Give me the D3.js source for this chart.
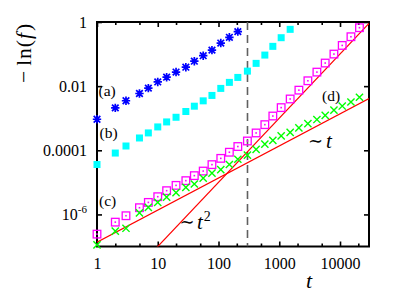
<!DOCTYPE html>
<html><head><meta charset="utf-8">
<script src="https://cdn.jsdelivr.net/npm/d3@7"></script>
<style>
body{margin:0;background:#fff}
svg{display:block}
</style>
</head><body>
<svg id="chart" width="399" height="292" style="font-family:'Liberation Serif','DejaVu Serif',serif"></svg>
<script>
// ---- data ----
const times = [1,2,3,5,7,10,14,20,29,40,56,78,109,151,208,299,416,579,784,1075,1512,2104,2960,4165,5706,7940,10870,15130,20900];
const seriesA = [9.3e-4,2.1e-3,3.5e-3,5.9e-3,8.7e-3,1.35e-2,1.9e-2,2.75e-2,3.9e-2,6.0e-2,8.9e-2,0.133,0.221,0.333,0.50];
const seriesB = [3.6e-5,8.2e-5,1.36e-4,2.42e-4,3.48e-4,5.35e-4,7.66e-4,1.07e-3,1.62e-3,2.37e-3,3.48e-3,5.13e-3,8.5e-3,1.31e-2,1.87e-2,2.94e-2,5.13e-2,9.3e-2,0.174,0.324,0.59];
const seriesC = [2.43e-7,5.75e-7,9.1e-7,1.62e-6,2.37e-6,3.57e-6,5.5e-6,8.05e-6,1.13e-5,1.62e-5,2.25e-5,3.57e-5,5.6e-5,8.7e-5,1.31e-4,1.95e-4,3.47e-4,6.3e-4,1.17e-3,2.14e-3,3.98e-3,7.5e-3,1.47e-2,2.74e-2,5.25e-2,0.1,0.186,0.347,0.664];
const seriesD = [1.12e-7,3.0e-7,3.7e-7,1.12e-6,1.66e-6,2.37e-6,3.47e-6,4.8e-6,7.0e-6,8.9e-6,1.36e-5,1.95e-5,2.5e-5,3.6e-5,5.25e-5,7.1e-5,1.07e-4,1.55e-4,2.04e-4,2.8e-4,3.6e-4,5.0e-4,6.8e-4,9.1e-4,1.23e-3,1.78e-3,2.4e-3,3.2e-3,4.5e-3];
const guideT = [1, 30000];
const guideLinear = [1.36e-7, 4.08e-3];   // ~ t
const guideQuad = [1e-9, 0.9];            // ~ t^2
const markerTime = 300;
const xTickValues = [1,10,100,1000,10000];
const xTickLabels = ["1","10","100","1000","10000"];
const xMinorTicks = [2,5,20,50,200,500,2000,5000,20000];
const yTickValues = [1,1e-2,1e-4,1e-6];
const yTickLabels = ["1","0.01","0.0001","10|-6"];

const SERIF = "Liberation Serif";

// ---- layout ----
const L = 97, R = 369, T = 22, B = 246.5;
const svg = d3.select("#chart");
const x = d3.scaleLog().domain([1, 30000]).range([L, R]);
const y = d3.scaleLog().domain([1e-7, 1]).range([B, T]);

svg.append("defs").append("clipPath").attr("id","clip")
  .append("rect").attr("x",L).attr("y",T).attr("width",R-L).attr("height",B-T);

function styleAxis(g){
  g.select(".domain").remove();
  g.attr("font-family",SERIF).attr("font-size",16);
  g.selectAll(".tick line").attr("stroke","#000").attr("stroke-width",1.6);
  g.selectAll("text").attr("fill","#000").attr("font-family",SERIF);
}
// bottom major
const gxb = svg.append("g").attr("transform",`translate(0,${B})`)
  .call(d3.axisBottom(x).tickValues(xTickValues).tickFormat((d,i)=>xTickLabels[i]).tickSize(-5));
styleAxis(gxb);
gxb.selectAll("text").attr("y",22.5).attr("dy",null);
// bottom minor
const gxbm = svg.append("g").attr("transform",`translate(0,${B})`)
  .call(d3.axisBottom(x).tickValues(xMinorTicks).tickFormat("").tickSize(-3));
styleAxis(gxbm);
// top major/minor
const gxt = svg.append("g").attr("transform",`translate(0,${T})`)
  .call(d3.axisTop(x).tickValues(xTickValues).tickFormat("").tickSize(-5));
styleAxis(gxt);
const gxtm = svg.append("g").attr("transform",`translate(0,${T})`)
  .call(d3.axisTop(x).tickValues(xMinorTicks).tickFormat("").tickSize(-3));
styleAxis(gxtm);
// left
const gyl = svg.append("g").attr("transform",`translate(${L},0)`)
  .call(d3.axisLeft(y).tickValues(yTickValues).tickFormat((d,i)=>yTickLabels[i]).tickSize(-5));
styleAxis(gyl);
gyl.selectAll("text").attr("x",-10).attr("dy","0.32em").each(function(){
  const s = d3.select(this), t = s.text();
  if (t.includes("|")) {
    const [base, sup] = t.split("|");
    s.text(base);
    s.append("tspan").attr("dy",-7).attr("font-size",11).text(sup);
  }
});
// right
const gyr = svg.append("g").attr("transform",`translate(${R},0)`)
  .call(d3.axisRight(y).tickValues(yTickValues).tickFormat("").tickSize(-5));
styleAxis(gyr);

// frame
svg.append("rect").attr("x",L).attr("y",T).attr("width",R-L).attr("height",B-T)
  .attr("fill","none").attr("stroke","#000").attr("stroke-width",2);

// plot content
const plot = svg.append("g");
const clipped = plot.append("g").attr("clip-path","url(#clip)");

// vertical dashed marker
clipped.append("line")
  .attr("x1",x(markerTime)).attr("x2",x(markerTime))
  .attr("y1",y.range()[1]).attr("y2",y.range()[0])
  .attr("stroke","#606060").attr("stroke-width",1.6).attr("stroke-dasharray","8,5");

// guide lines
const line = d3.line().x(d=>x(d[0])).y(d=>y(d[1]));
clipped.append("path").attr("d", line(guideT.map((t,i)=>[t,guideLinear[i]])))
  .attr("fill","none").attr("stroke","#ff0000").attr("stroke-width",1.2);
clipped.append("path").attr("d", line(guideT.map((t,i)=>[t,guideQuad[i]])))
  .attr("fill","none").attr("stroke","#ff0000").attr("stroke-width",1.2);

// markers
const starPath = "M-4.2,0H4.2M0,-4.2V4.2M-3.3,-3.3L3.3,3.3M-3.3,3.3L3.3,-3.3";
const crossPath = "M-3.6,-3.6L3.6,3.6M-3.6,3.6L3.6,-3.6";

plot.append("g").selectAll("path").data(seriesA.map((v,i)=>[times[i],v])).join("path")
  .attr("transform",d=>`translate(${x(d[0])},${y(d[1])})`)
  .attr("d",starPath).attr("fill","none").attr("stroke","#0000ff").attr("stroke-width",1.7);

plot.append("g").selectAll("rect").data(seriesB.map((v,i)=>[times[i],v])).join("rect")
  .attr("x",d=>x(d[0])-3.5).attr("y",d=>y(d[1])-3.5).attr("width",7).attr("height",7)
  .attr("fill","#00ffff");

const gC = plot.append("g").selectAll("g").data(seriesC.map((v,i)=>[times[i],v])).join("g")
  .attr("transform",d=>`translate(${x(d[0])},${y(d[1])})`);
gC.append("rect").attr("x",-3.8).attr("y",-3.8).attr("width",7.6).attr("height",7.6)
  .attr("fill","none").attr("stroke","#ff00ff").attr("stroke-width",1.3);
gC.append("rect").attr("x",-0.8).attr("y",-0.8).attr("width",1.6).attr("height",1.6).attr("fill","#ff00ff");

plot.append("g").selectAll("path").data(seriesD.map((v,i)=>[times[i],v])).join("path")
  .attr("transform",d=>`translate(${x(d[0])},${y(d[1])})`)
  .attr("d",crossPath).attr("fill","none").attr("stroke","#00ff00").attr("stroke-width",1.4);

// annotations
const ann = svg.append("g").attr("font-size",15.5).attr("font-family",SERIF);
ann.append("text").attr("x",98.5).attr("y",95.5).text("(a)");
ann.append("text").attr("x",99.5).attr("y",137.5).text("(b)");
ann.append("text").attr("x",99).attr("y",206).text("(c)");
ann.append("text").attr("x",322).attr("y",101).text("(d)");

// ~ t
svg.append("text").attr("x",308).attr("y",147).attr("font-size",18)
  .attr("font-family","DejaVu Serif").text("\u223C");
svg.append("text").attr("x",326).attr("y",148).attr("font-size",21)
  .attr("font-family",SERIF).attr("font-style","italic").text("t");
// ~ t^2
svg.append("text").attr("x",179.5).attr("y",227.5).attr("font-size",18)
  .attr("font-family","DejaVu Serif").text("\u223C");
const t2 = svg.append("text").attr("x",197).attr("y",228.5).attr("font-size",21).attr("font-family",SERIF);
t2.append("tspan").attr("font-style","italic").text("t");
t2.append("tspan").attr("dy",-8).attr("dx",1).attr("font-size",14).text("2");

// axis titles
svg.append("text").attr("x",309).attr("y",287.5).attr("text-anchor","middle")
  .attr("font-family",SERIF).attr("font-size",22).attr("font-style","italic").text("t");
const yl = svg.append("text").attr("transform","translate(31,83) rotate(-90)")
  .attr("text-anchor","start").attr("font-size",21.5).attr("font-family",SERIF)
  .attr("letter-spacing",1);
yl.append("tspan").text("\u2212");
yl.append("tspan").attr("dx",4).text("ln(");
yl.append("tspan").attr("font-style","italic").text("f");
yl.append("tspan").attr("dx",1).text(")");
</script>
</body></html>
